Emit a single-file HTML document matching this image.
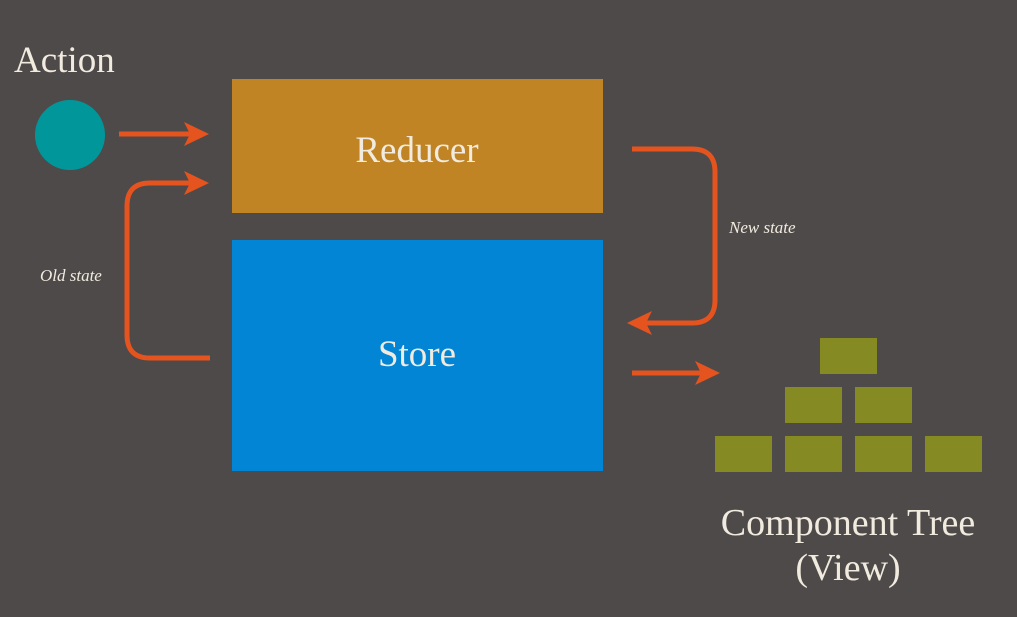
<!DOCTYPE html>
<html><head><meta charset="utf-8"><style>
html,body{margin:0;padding:0;background:#4e4a4a;}
svg{display:block;}
text{font-family:"Liberation Serif",serif;fill:#f1ebdf;}
</style></head><body>
<svg width="1017" height="617" viewBox="0 0 1017 617" xmlns="http://www.w3.org/2000/svg">
<rect width="1017" height="617" fill="#4e4a4a"/>
<text x="14" y="72" font-size="37">Action</text>
<circle cx="70" cy="135" r="35" fill="#01979a"/>
<rect x="232" y="79" width="371" height="134" fill="#c08424"/>
<text x="417" y="162" font-size="37" text-anchor="middle">Reducer</text>
<rect x="232" y="240" width="371" height="231" fill="#0285d5"/>
<text x="417" y="366" font-size="37" text-anchor="middle">Store</text>
<g fill="none" stroke="#e5531f" stroke-width="5">
<path d="M119 134 H192"/>
<path d="M210 358 H150 Q127 358 127 335 V206 Q127 183 150 183 H192"/>
<path d="M632 149 H692 Q715 149 715 172 V300 Q715 323 692 323 H645"/>
<path d="M632 373 H702"/>
</g>
<g fill="#e5531f">
<path d="M209 134 L184 122 L190 134 L184 146 Z"/>
<path d="M209 183 L184 171 L190 183 L184 195 Z"/>
<path d="M627 323 L652 311 L646 323 L652 335 Z"/>
<path d="M720 373 L695 361 L701 373 L695 385 Z"/>
</g>
<text x="40" y="281" font-size="17" font-style="italic">Old state</text>
<text x="729" y="233" font-size="17" font-style="italic">New state</text>
<g fill="#858a22">
<rect x="820" y="338" width="57" height="36"/>
<rect x="785" y="387" width="57" height="36"/>
<rect x="855" y="387" width="57" height="36"/>
<rect x="715" y="436" width="57" height="36"/>
<rect x="785" y="436" width="57" height="36"/>
<rect x="855" y="436" width="57" height="36"/>
<rect x="925" y="436" width="57" height="36"/>
</g>
<text x="848" y="535" font-size="38" text-anchor="middle">Component Tree</text>
<text x="848" y="580" font-size="38" text-anchor="middle">(View)</text>
</svg>
</body></html>
